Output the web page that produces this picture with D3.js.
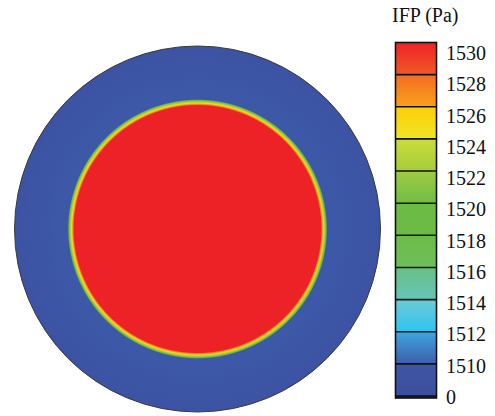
<!DOCTYPE html>
<html><head><meta charset="utf-8">
<script src="https://cdn.jsdelivr.net/npm/d3@7"></script>
<style>html,body{margin:0;padding:0;background:#fff;}svg{display:block;}
text{font-family:"Liberation Serif","DejaVu Serif","Times New Roman",serif;}</style>
</head><body>
<script>
// ---- data ----
const tickLabels = ["1530","1528","1526","1524","1522","1520","1518","1516","1514","1512","1510","0"];
const segTop    = ["#ed2226","#f36c22","#fdcd0a","#cadc3a","#9fcb40","#6cbb45","#6cbb45","#6bbf84","#6dcbd6","#3fa5e0","#3f55a3"];
const segBottom = ["#f15a27","#f9a11b","#eee625","#a6cd3c","#70bd45","#6cbb45","#6ebf5c","#66c5b8","#2ec4f1","#3c5fab","#3c4f9f"];
// radial IFP profile (radius in mm, pressure in Pa)
const profileR = [0, 6.75, 6.81, 6.88, 6.96, 7.03, 7.09];
const profileP = [1530, 1530, 1527, 1524.5, 1522, 1519, 1509];
const tissueRadius = 10;   // mm

// ---- layout ----
const W = 495, H = 416;
const svg = d3.select("body").append("svg").attr("width", W).attr("height", H);
const defs = svg.append("defs");

// pressure -> color (piecewise, following the colorbar)
const colorDomain = [1508, 1510, 1512, 1514, 1516, 1518, 1520, 1522, 1524, 1526, 1528, 1530];
const colorRange  = ["#3c53a3","#3c5fab","#2ec4f1","#6bcbd4","#6bbf84","#6cbb45","#6cbb45","#a6cd3c","#eee625","#fdbb12","#f15a27","#ed2226"];
const color = d3.scaleLinear().domain(colorDomain).range(colorRange).clamp(true);

// ---- contour disc ----
const cx = 197.5, cy = 229;
const r = d3.scaleLinear().domain([0, tissueRadius]).range([0, 183]);

const rg = defs.append("radialGradient").attr("id","ifp")
  .attr("gradientUnits","userSpaceOnUse").attr("cx",cx).attr("cy",cy).attr("r", r(tissueRadius));
profileR.forEach((d,i)=>{
  rg.append("stop").attr("offset", d / tissueRadius).attr("stop-color", color(profileP[i]));
});
rg.append("stop").attr("offset", 1).attr("stop-color", color(1508));

svg.append("circle").attr("cx",cx).attr("cy",cy).attr("r", r(tissueRadius))
  .attr("fill","url(#ifp)").attr("stroke","#3a3a3a").attr("stroke-width",1);

// ---- colorbar ----
const cbX = 395.5, cbW = 41;
const seg = d3.scaleLinear().domain([0, segTop.length]).range([42.5, 396]);
segTop.forEach((c,i)=>{
  const lg = defs.append("linearGradient").attr("id","seg"+i).attr("x1",0).attr("y1",0).attr("x2",0).attr("y2",1);
  lg.append("stop").attr("offset",0).attr("stop-color",c);
  lg.append("stop").attr("offset",1).attr("stop-color",segBottom[i]);
});
const cb = svg.append("g");
cb.selectAll("rect.seg").data(segTop).join("rect").attr("class","seg")
  .attr("x", cbX).attr("width", cbW)
  .attr("y", (d,i)=>seg(i)).attr("height", (d,i)=>seg(i+1)-seg(i))
  .attr("fill", (d,i)=>"url(#seg"+i+")");
// bottom dark sliver (value 0)
cb.append("rect").attr("x",cbX).attr("width",cbW).attr("y",seg(segTop.length)).attr("height",2)
  .attr("fill","#1c2755");
cb.selectAll("line.sep").data(d3.range(1, segTop.length+1)).join("line").attr("class","sep")
  .attr("x1", cbX).attr("x2", cbX+cbW).attr("y1", d=>seg(d)).attr("y2", d=>seg(d))
  .attr("stroke","#111").attr("stroke-width",1.6);
cb.append("rect").attr("x",cbX).attr("y",seg(0)).attr("width",cbW).attr("height",seg(segTop.length)+2-seg(0))
  .attr("fill","none").attr("stroke","#111").attr("stroke-width",1.6);

// tick labels
const labelY = d3.scalePoint().domain(tickLabels).range([53, 397]);
svg.selectAll("text.tick").data(tickLabels).join("text").attr("class","tick")
  .attr("x", 446).attr("y", d=>labelY(d)).attr("dy","0.35em")
  .attr("font-size",20).attr("fill","#111").text(d=>d);

svg.append("text").attr("x",392).attr("y",22)
  .attr("font-size",20).attr("fill","#111").text("IFP (Pa)");
</script>
</body></html>
